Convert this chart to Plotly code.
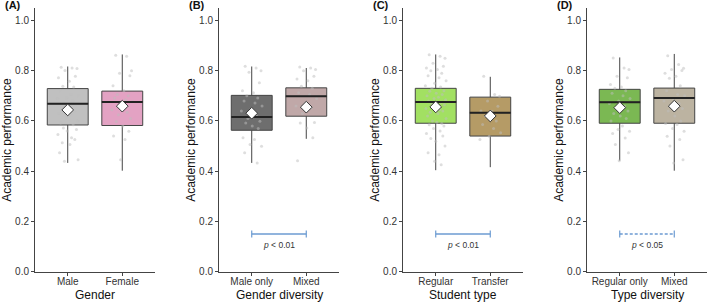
import plotly.graph_objects as go

# ---------------- data ----------------
panel_labels = ["(A)", "(B)", "(C)", "(D)"]
x_titles = ["Gender", "Gender diversity", "Student type", "Type diversity"]
y_title = "Academic performance"
categories = [["Male", "Female"], ["Male only", "Mixed"],
              ["Regular", "Transfer"], ["Regular only", "Mixed"]]
y_ticks = [0.0, 0.2, 0.4, 0.6, 0.8, 1.0]

q1 = [[0.584, 0.582], [0.563, 0.619], [0.591, 0.540], [0.591, 0.591]]
median = [[0.669, 0.676], [0.616, 0.698], [0.676, 0.633], [0.675, 0.692]]
q3 = [[0.729, 0.719], [0.702, 0.732], [0.730, 0.695], [0.726, 0.731]]
lower = [[0.433, 0.402], [0.433, 0.529], [0.404, 0.416], [0.442, 0.402]]
upper = [[0.817, 0.865], [0.817, 0.811], [0.865, 0.776], [0.853, 0.867]]
means = [[0.644, 0.659], [0.631, 0.655], [0.656, 0.620], [0.653, 0.659]]

sig_y = 0.15
sig_text = [None, "p < 0.01", "p < 0.01", "p < 0.05"]

male_pts = [0.814, 0.811, 0.809, 0.801, 0.778, 0.772, 0.758, 0.738, 0.735, 0.72, 0.705, 0.70,
            0.692, 0.69, 0.68, 0.672, 0.665, 0.66, 0.645, 0.639, 0.63, 0.625, 0.612, 0.60,
            0.592, 0.585, 0.572, 0.566, 0.56, 0.546, 0.533, 0.526, 0.513, 0.506, 0.473, 0.446, 0.44]
female_pts = [0.862, 0.858, 0.80, 0.79, 0.78, 0.74, 0.72, 0.705, 0.70, 0.692, 0.685, 0.678,
              0.66, 0.645, 0.635, 0.625, 0.61, 0.598, 0.58, 0.559, 0.54, 0.526, 0.446]
maleonly_pts = [0.818, 0.811, 0.80, 0.794, 0.752, 0.72, 0.712, 0.70, 0.692, 0.68, 0.672, 0.66,
                0.645, 0.64, 0.62, 0.61, 0.599, 0.592, 0.58, 0.57, 0.533, 0.526, 0.506, 0.499,
                0.473, 0.433]
mixedg_pts = [0.815, 0.811, 0.805, 0.80, 0.778, 0.767, 0.76, 0.738, 0.73, 0.712, 0.705, 0.69,
              0.672, 0.66, 0.652, 0.63, 0.594, 0.592, 0.572, 0.533, 0.442]
regular_pts = [0.864, 0.858, 0.85, 0.83, 0.818, 0.811, 0.805, 0.80, 0.79, 0.78, 0.772, 0.76,
               0.75, 0.74, 0.735, 0.73, 0.72, 0.718, 0.71, 0.705, 0.70, 0.695, 0.69, 0.685,
               0.68, 0.675, 0.67, 0.665, 0.66, 0.65, 0.645, 0.64, 0.635, 0.63, 0.62, 0.61,
               0.60, 0.595, 0.59, 0.585, 0.58, 0.57, 0.56, 0.55, 0.54, 0.53, 0.519, 0.50,
               0.473, 0.466, 0.44, 0.426]
transfer_pts = [0.778, 0.705, 0.698, 0.68, 0.659, 0.64, 0.639, 0.62, 0.60, 0.586, 0.57, 0.553,
                0.539, 0.526]
regonly_pts = [0.851, 0.811, 0.805, 0.778, 0.772, 0.745, 0.735, 0.73, 0.72, 0.71, 0.70, 0.69,
               0.68, 0.67, 0.66, 0.65, 0.64, 0.63, 0.62, 0.61, 0.60, 0.58, 0.566, 0.559, 0.55,
               0.532, 0.506, 0.473, 0.442]
mixedt_pts = [0.86, 0.825, 0.81, 0.805, 0.801, 0.79, 0.778, 0.77, 0.74, 0.72, 0.705, 0.70,
              0.69, 0.68, 0.67, 0.66, 0.65, 0.64, 0.62, 0.60, 0.59, 0.586, 0.57, 0.559, 0.539,
              0.526, 0.50, 0.446, 0.433]
points = [[male_pts, female_pts], [maleonly_pts, mixedg_pts],
          [regular_pts, transfer_pts], [regonly_pts, mixedt_pts]]

jitter = [-0.12, 0.08, 0.17, -0.05, 0.14, -0.17, 0.03, -0.09, 0.11, -0.14, 0.06, 0.19, -0.02,
          -0.19, 0.09, -0.07, 0.15, -0.11, 0.01, 0.12, -0.16, 0.05, -0.03, 0.18, -0.13, 0.10,
          -0.08, 0.16, -0.01, -0.18, 0.07, 0.13, -0.10, 0.04, -0.15, 0.19, -0.06, 0.02, 0.11,
          -0.12, 0.15, -0.04, 0.08, -0.17, 0.13, -0.09, 0.00, 0.17, -0.14, 0.06, -0.02, 0.10,
          -0.19, 0.14, -0.07, 0.03, 0.18, -0.11, 0.09, -0.05]

# ---------------- styles ----------------
fills = [["#C0C0C0", "#E3A2C3"], ["#6E6E6E", "#C0A8A8"],
         ["#A2E062", "#B59B66"], ["#7BB853", "#BCB3A1"]]
W, H = 709, 302
H_EFF = 296.4          # effective rendered height used for paper-fraction mapping
plot_left = [35, 219, 403, 587]
plot_w = 120
plot_top, plot_bot = 8, 272
FONT = "Liberation Sans, Arial, sans-serif"
AX = "#444444"
BLUE = "#6C9BD2"
box_w = 0.75


def py(p):
    return 1 - p / H_EFF


fig = go.Figure()
layout = dict(width=W, height=H, autosize=False,
              margin=dict(l=0, r=0, t=0, b=0),
              paper_bgcolor="white", plot_bgcolor="white",
              showlegend=False, font=dict(family=FONT, color="#222"))
annotations = []

for i in range(4):
    xa = "x" if i == 0 else f"x{i+1}"
    ya = "y" if i == 0 else f"y{i+1}"
    xk = "xaxis" if i == 0 else f"xaxis{i+1}"
    yk = "yaxis" if i == 0 else f"yaxis{i+1}"
    x0 = plot_left[i] / W
    x1 = (plot_left[i] + plot_w) / W
    layout[xk] = dict(domain=[x0, x1], anchor=ya, range=[0.4, 2.6],
                      tickvals=[1, 2], ticktext=categories[i],
                      showline=True, linecolor=AX, linewidth=1,
                      ticks="outside", ticklen=3, tickcolor=AX, tickwidth=1,
                      ticklabelstandoff=-3,
                      showgrid=False, zeroline=False,
                      tickfont=dict(size=10, color="#333", family=FONT))
    layout[yk] = dict(domain=[py(plot_bot), py(plot_top)], anchor=xa,
                      range=[0, 1.05], tickvals=y_ticks,
                      ticktext=[f"{v:.1f}" for v in y_ticks],
                      showline=True, linecolor=AX, linewidth=1,
                      ticks="outside", ticklen=3, tickcolor=AX, tickwidth=1,
                      showgrid=False, zeroline=False,
                      tickfont=dict(size=10, color="#333", family=FONT))

    for j in range(2):
        c = j + 1
        fig.add_trace(go.Box(
            x=[c], q1=[q1[i][j]], median=[median[i][j]], q3=[q3[i][j]],
            lowerfence=[lower[i][j]], upperfence=[upper[i][j]],
            width=box_w, whiskerwidth=0, boxpoints=False,
            fillcolor=fills[i][j], line=dict(color=AX, width=1),
            xaxis=xa, yaxis=ya, hoverinfo="skip"))
        pts = points[i][j]
        fig.add_trace(go.Scatter(
            x=[c + jitter[k] for k in range(len(pts))], y=pts, mode="markers",
            marker=dict(size=3, color="rgba(190,190,190,0.5)"),
            xaxis=xa, yaxis=ya, hoverinfo="skip"))
        fig.add_trace(go.Scatter(
            x=[c - box_w / 2, c + box_w / 2], y=[median[i][j], median[i][j]],
            mode="lines", line=dict(color="#222", width=2),
            xaxis=xa, yaxis=ya, hoverinfo="skip"))
        fig.add_trace(go.Scatter(
            x=[c], y=[means[i][j]], mode="markers",
            marker=dict(symbol="diamond", size=9, color="white",
                        line=dict(color="#333", width=1)),
            xaxis=xa, yaxis=ya, hoverinfo="skip"))

    if sig_text[i]:
        fig.add_trace(go.Scatter(
            x=[1, 2], y=[sig_y, sig_y], mode="lines+markers",
            line=dict(color=BLUE, width=1.5, dash="3px,2px" if i == 3 else "solid"),
            marker=dict(symbol="line-ns", size=5, line=dict(color=BLUE, width=1.2)),
            xaxis=xa, yaxis=ya, hoverinfo="skip"))
        annotations.append(dict(
            x=1.5, y=sig_y - 0.043, xref=xa, yref=ya, showarrow=False,
            text="<i>p</i>" + sig_text[i][1:], xanchor="center", yanchor="middle",
            font=dict(size=8.5, color="#333", family=FONT)))

    # axis titles & panel label
    annotations.append(dict(
        x=(plot_left[i] - 28) / W, y=py((plot_top + plot_bot) / 2),
        xref="paper", yref="paper", showarrow=False, text=y_title, textangle=-90,
        xanchor="center", yanchor="middle", font=dict(size=12, color="#111", family=FONT)))
    annotations.append(dict(
        x=(plot_left[i] + plot_w / 2) / W, y=py(295),
        xref="paper", yref="paper", showarrow=False, text=x_titles[i],
        xanchor="center", yanchor="middle", font=dict(size=12, color="#111", family=FONT)))
    annotations.append(dict(
        x=(plot_left[i] - 32) / W, y=py(5),
        xref="paper", yref="paper", showarrow=False, text="<b>" + panel_labels[i] + "</b>",
        xanchor="left", yanchor="middle", font=dict(size=11, color="#111", family=FONT)))

layout["annotations"] = annotations
fig.update_layout(**layout)
fig.write_html("out.html")
